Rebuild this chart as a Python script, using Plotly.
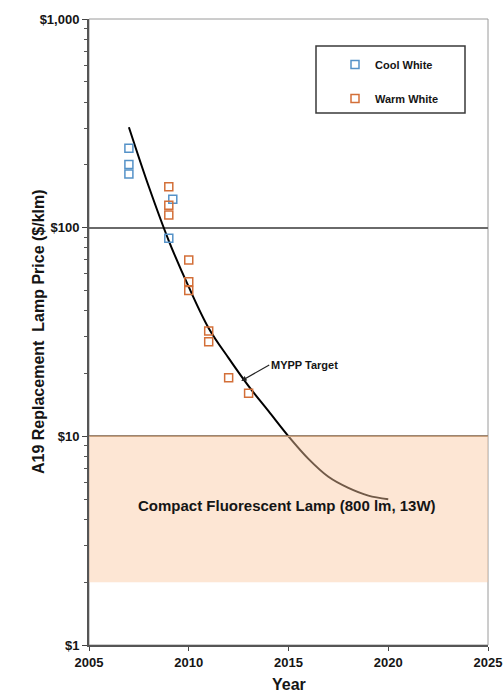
import plotly.graph_objects as go

# ---- data ----
cool_years = [2007.0, 2007.0, 2007.0, 2009.2, 2009.0]
cool_price = [240, 201, 181, 137, 89]

warm_years = [2009.0, 2009.0, 2009.0, 2010.0, 2010.0, 2010.0, 2011.0, 2011.0, 2012.0, 2013.0]
warm_price = [157, 128, 115, 70, 55, 50, 32, 28.4, 19.1, 16.1]

target_years = [2007, 2008, 2009, 2010, 2011, 2012, 2013, 2014, 2015, 2016, 2017, 2018, 2019, 2020]
target_price = [303, 157, 86.5, 52, 33, 23.7, 17.4, 13.2, 10, 7.8, 6.4, 5.66, 5.2, 5.0]

cfl_years = [2005, 2025]
cfl_low = [2, 2]
cfl_high = [10, 10]

y_tickvals = [1, 10, 100, 1000]
y_ticktext = ["$1", "$10", "$100", "$1,000"]
x_tickvals = [2005, 2010, 2015, 2020, 2025]

FONT = "Liberation Sans, Arial, sans-serif"
TXT = "#151515"
BLUE = "#5592C8"
ORANGE = "#D36F38"

W, H = 504, 693
PL, PR, PT, PB = 89, 488, 19, 645  # plot area in window pixels

def px_x(px):
    return (px - PL) / (PR - PL)

def px_y(py):
    return (PB - py) / (PB - PT)

fig = go.Figure()

fig.add_trace(go.Scatter(
    x=target_years, y=target_price, mode="lines",
    line=dict(color="black", width=2, shape="spline", smoothing=1.0),
    showlegend=False, hoverinfo="skip"))

fig.add_trace(go.Scatter(
    x=cfl_years, y=cfl_low, mode="lines", line=dict(width=0),
    showlegend=False, hoverinfo="skip"))
fig.add_trace(go.Scatter(
    x=cfl_years, y=cfl_high, mode="lines", fill="tonexty",
    fillcolor="rgba(250,200,160,0.45)",
    line=dict(color="#C9A07C", width=1.5),
    showlegend=False, hoverinfo="skip"))

fig.add_trace(go.Scatter(
    x=cool_years, y=cool_price, mode="markers", name="Cool White",
    legendgroup="c",
    marker=dict(symbol="square-open", size=8, color=BLUE, line=dict(width=1.5, color=BLUE))))
fig.add_trace(go.Scatter(
    x=warm_years, y=warm_price, mode="markers", name="Warm White",
    legendgroup="w",
    marker=dict(symbol="square-open", size=8, color=ORANGE, line=dict(width=1.5, color=ORANGE))))

minor_vals = [m * d for d in (1, 10, 100) for m in range(2, 10)]

fig.update_layout(
    width=W, height=H,
    margin=dict(l=PL, r=W - PR, t=PT, b=H - PB, autoexpand=False),
    paper_bgcolor="white", plot_bgcolor="white",
    font=dict(family=FONT, color=TXT),
    xaxis=dict(range=[2005, 2025], tickvals=x_tickvals, ticks="outside", ticklen=4,
               tickcolor="#444", showgrid=False, zeroline=False, automargin=False,
               showline=True, linecolor="#555", linewidth=2,
               tickfont=dict(size=13, weight="bold", color=TXT)),
    yaxis=dict(type="log", range=[0, 3], tickvals=y_tickvals, ticktext=y_ticktext,
               ticks="outside", ticklen=5, tickcolor="#444", automargin=False,
               showgrid=True, gridcolor="#6a6a6a", gridwidth=1.5, zeroline=False,
               showline=True, linecolor="#555", linewidth=2,
               tickfont=dict(size=13, weight="bold", color=TXT),
               minor=dict(tickvals=minor_vals, ticks="outside", ticklen=3,
                          tickcolor="#555", showgrid=False)),
    legend=dict(x=px_x(335), y=0.9506,
                xref="paper", yref="paper", xanchor="left", yanchor="top",
                bgcolor="rgba(0,0,0,0)", borderwidth=0,
                font=dict(size=11, weight="bold", color=TXT),
                traceorder="grouped", tracegroupgap=15, itemwidth=30),
    showlegend=True,
)

# plot frame (top / right) and legend box
fig.add_shape(type="rect", xref="x domain", yref="y domain", x0=0, x1=1, y0=0, y1=1,
              line=dict(color="#9a9a9a", width=1), layer="below")
fig.add_shape(type="rect", xref="paper", yref="paper",
              x0=px_x(316), x1=px_x(465), y0=px_y(113), y1=px_y(46),
              line=dict(color="#3a3a3a", width=1.5), layer="above")

# annotations
fig.add_annotation(x=2012.63, y=1.2654, xref="x", yref="y",
                   text="MYPP Target", showarrow=True, arrowhead=2, arrowsize=0.9,
                   arrowwidth=1.2, arrowcolor="#222", ax=28, ay=-16,
                   xanchor="left", yanchor="middle",
                   font=dict(size=11, weight="bold", color=TXT))
fig.add_annotation(x=2014.94, y=0.6666, xref="x", yref="y",
                   text="Compact Fluorescent Lamp (800 lm, 13W)", showarrow=False,
                   font=dict(size=15, weight="bold", color=TXT))
fig.add_annotation(x=px_x(288.5), y=px_y(684), xref="paper", yref="paper",
                   text="Year", showarrow=False, yanchor="middle",
                   font=dict(size=16, weight="bold", color=TXT))
fig.add_annotation(x=px_x(38), y=0.5, xref="paper", yref="paper",
                   text="A19 Replacement  Lamp Price ($/klm)", showarrow=False,
                   textangle=-90, xanchor="center", yanchor="middle",
                   font=dict(size=16, weight="bold", color=TXT))

fig.write_html("out.html", config={"displayModeBar": False},
               post_script="document.body.style.margin='0';document.body.style.overflow='hidden';")
